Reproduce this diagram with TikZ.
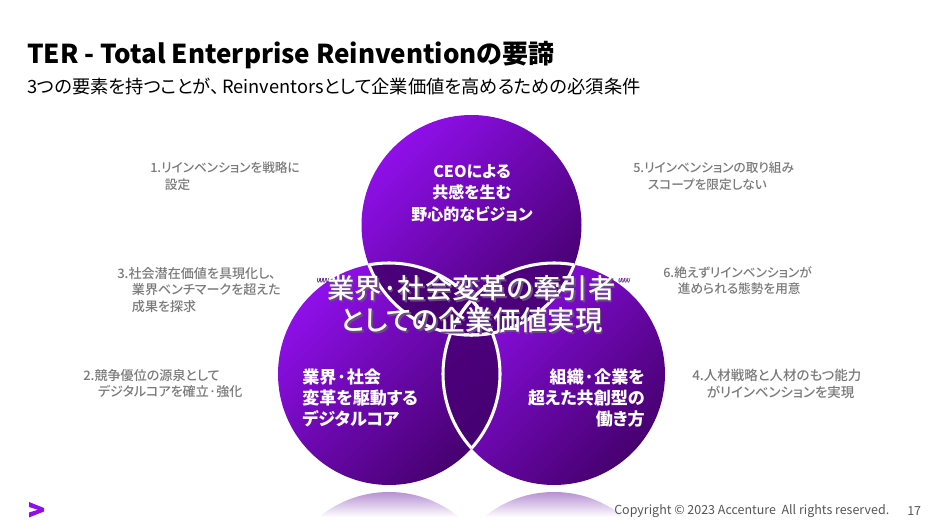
\documentclass[tikz,border=0pt]{standalone}
\usepackage{fontspec}
\setmainfont[RawFeature=+palt]{Noto Sans CJK JP}
\newfontfamily\jpm[RawFeature=+palt]{Noto Sans CJK JP Medium}
\newfontfamily\qfont{Liberation Sans}
\usetikzlibrary{calc}
\definecolor{vlight}{HTML}{8F0FEA}
\definecolor{vdark}{HTML}{46006F}
\definecolor{lenslight}{HTML}{4E007E}
\definecolor{lensdark}{HTML}{3C0062}
\definecolor{greytext}{HTML}{7A7A7A}
\definecolor{foot}{HTML}{555555}
\definecolor{refl}{HTML}{B48CD0}
\definecolor{shadowc}{HTML}{6A4A80}
\tikzset{
  side/.style={text=greytext,font=\jpm\fontsize{#1}{12.3}\selectfont,align=left,anchor=north west,inner sep=0pt},
  innertext/.style={text=white,font=\bfseries\fontsize{12.8}{16}\selectfont,inner sep=0pt},
  bigtext/.style={font=\jpm\fontsize{20.5}{24}\selectfont,align=center,inner sep=0pt},
  quotemark/.style={font=\qfont\itshape\fontsize{12}{12}\selectfont,inner sep=0pt,anchor=base},
  ring/.style={draw=white,line width=2.3pt},
  grad/.style={top color=vlight,bottom color=vdark,shading angle=45},
  lens/.style={top color=lenslight,bottom color=lensdark,shading angle=45}
}
\newcommand{\bigwords}{業界·社会変革の牽引者\\としての企業価値実現}
\newcommand{\quotepair}[2]{%
  \foreach \dx/\dy in {-0.7/0,0.7/0,0/-0.7,0/0.7}
    \node[quotemark,text=vdark] at ($(#1)+(\dx,\dy)$) {#2};
  \node[quotemark,text=white] at (#1) {#2};}
\begin{document}
\begin{tikzpicture}[x=0.75pt,y=-0.75pt]
\useasboundingbox (0,0) rectangle (943,530);
\fill[white] (0,0) rectangle (943,530);
\coordinate (T) at (471.5,225);
\coordinate (L) at (389,374);
\coordinate (R) at (554,374);
% reflections
\begin{scope}
  \clip (389,602) circle (110) (554,602) circle (110);
  \shade[top color=refl,bottom color=white] (300,491) rectangle (640,517);
\end{scope}
% discs
\shade[grad] (T) circle (110);
\shade[grad] (L) circle (111);
\shade[grad] (R) circle (111);
% overlaps
\begin{scope}
  \clip (T) circle (110);
  \shade[lens] (L) circle (111);
\end{scope}
\begin{scope}
  \clip (T) circle (110);
  \shade[lens] (R) circle (111);
\end{scope}
\begin{scope}
  \clip (L) circle (111);
  \shade[lens] (R) circle (111);
\end{scope}
% white arcs
\begin{scope}
  \clip (T) circle (110);
  \draw[ring] (L) circle (111);
  \draw[ring] (R) circle (111);
\end{scope}
\begin{scope}
  \clip (L) circle (111);
  \draw[ring] (T) circle (110);
  \draw[ring] (R) circle (111);
\end{scope}
\begin{scope}
  \clip (R) circle (111);
  \draw[ring] (T) circle (110);
  \draw[ring] (L) circle (111);
\end{scope}
% disc texts
\node[innertext,font=\bfseries\fontsize{12}{16}\selectfont,align=center] (ceo) at (472,193) {CEOによる\\共感を生む\\野心的なビジョン};
\node[innertext,align=left,anchor=west] (core) at (302,398) {業界·社会\\変革を駆動する\\デジタルコア};
\node[innertext,align=right,anchor=east] (work) at (645,398) {組織·企業を\\超えた共創型の\\働き方};
% central statement
\node[bigtext,text=shadowc] (bigshadow) at (473,306) {\bigwords};
\node[bigtext,text=white] (bigmain) at (471.5,304.5) {\bigwords};
\coordinate (qa) at (322,290);
\coordinate (qb) at (623.5,290);
\quotepair{qa}{""}
\quotepair{qb}{""}
% side notes
\node[side=9.5] (n1) at (150,162) {1.リインベンションを戦略に\\\hspace*{11pt}設定};
\node[side=9.8] (n3) at (117,267) {3.社会潜在価値を具現化し、\\\hspace*{11pt}業界ベンチマークを超えた\\\hspace*{11pt}成果を探求};
\node[side=9.8] (n2) at (83,369) {2.競争優位の源泉として\\\hspace*{11pt}デジタルコアを確立·強化};
\node[side=9.5] (n5) at (633,162) {5.リインベンションの取り組み\\\hspace*{11pt}スコープを限定しない};
\node[side=9.5] (n6) at (663,266) {6.絶えずリインベンションが\\\hspace*{11pt}進められる態勢を用意};
\node[side=10.1] (n4) at (692,369) {4.人材戦略と人材のもつ能力\\\hspace*{11pt}がリインベンションを実現};
% headings
\node[anchor=west,inner sep=0pt,font=\bfseries\fontsize{19.5}{22}\selectfont,text=black] (title) at (27,55) {TER - Total Enterprise Reinventionの要諦};
\node[anchor=west,inner sep=0pt,font=\fontsize{13.7}{16}\selectfont,text=black] (subtitle) at (27,87) {3つの要素を持つことが、\hspace{2pt}Reinventorsとして企業価値を高めるための必須条件};
% footer
\fill[vlight] (29,502) -- (44,508) -- (44,511.5) -- (29,517.5) -- (29,512.5) -- (38,509.8) -- (29,507) -- cycle;
\node[anchor=west,inner sep=0pt,font=\fontsize{9.35}{10}\selectfont,text=foot] (copy) at (614,511.5) {Copyright © 2023 Accenture\ \ All rights reserved.};
\node[anchor=west,inner sep=0pt,font=\fontsize{9.35}{10}\selectfont,text=foot] (page) at (907,511.5) {17};
\end{tikzpicture}
\end{document}
